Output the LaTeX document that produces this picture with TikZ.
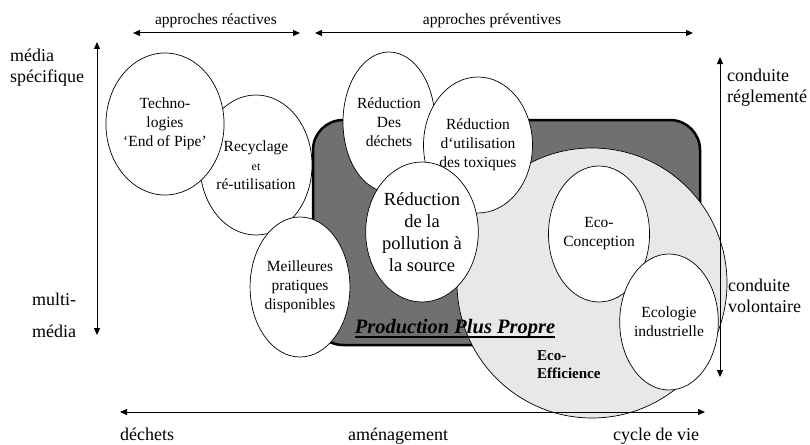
\documentclass[tikz,border=0pt]{standalone}
\usepackage{fontspec}
\setmainfont{Liberation Serif}
\usetikzlibrary{shapes.geometric,arrows.meta}
\definecolor{darkbox}{RGB}{112,112,112}
\definecolor{lightdisc}{RGB}{232,232,232}
\begin{document}
\begin{tikzpicture}[x=1pt,y=-1pt,
  ell/.style={ellipse,draw=black,line width=0.7pt,fill=white,inner sep=0pt,align=center,font=\fontsize{15.5}{19}\selectfont},
  ax/.style={line width=1pt,{Triangle[length=7pt,width=6pt]}-{Triangle[length=7pt,width=6pt]}},
  axlbl/.style={font=\fontsize{18}{21}\selectfont,inner sep=0pt,anchor=base west,align=left},
  toplbl/.style={font=\fontsize{15.5}{18}\selectfont,inner sep=0pt,anchor=base}]
\useasboundingbox (0,0) rectangle (810,444);
\fill[white] (0,0) rectangle (810,444);
% production plus propre box
\draw[line width=2.5pt,fill=darkbox,rounded corners=30pt] (313,120) rectangle (700,345);
% eco-efficience disc
\node[circle,draw=black,line width=0.7pt,fill=lightdisc,minimum size=270pt,inner sep=0pt] (disc) at (592,283) {};
% ellipses
\node[ell,minimum width=92pt,minimum height=140pt] (recy) at (256,165) {Recyclage\\{\fontsize{12}{19}\selectfont et}\\ré-utilisation};
\node[ell,minimum width=92pt,minimum height=142pt] (tech) at (165,124) {Techno-\\logies\\`End of Pipe'};
\node[ell,minimum width=95pt,minimum height=140pt] (meil) at (300,287) {Meilleures\\pratiques\\disponibles};
\node[ell,minimum width=92pt,minimum height=140pt] (dech) at (389,122) {Réduction\\Des\\déchets};
\node[ell,minimum width=88pt,minimum height=136pt] (toxi) at (478,145) {Réduction\\d\textquoteleft utilisation\\des toxiques};
\node[ell,minimum width=92pt,minimum height=140pt,font=\fontsize{18.5}{22}\selectfont] (poll) at (422,232) {Réduction\\de la\\pollution à\\la source};
\node[ell,minimum width=95pt,minimum height=136pt] (conc) at (599,234) {Eco-\\Conception};
\node[ell,minimum width=88pt,minimum height=136pt] (ecol) at (669,322) {Ecologie\\industrielle};
% inner labels
\node[font=\fontsize{20.5}{22}\selectfont\bfseries\itshape,inner sep=0pt,anchor=base] (ppp) at (455,333) {Production Plus Propre};
\draw[line width=1.6pt] ([yshift=-4pt]ppp.base west) -- ([yshift=-4pt]ppp.base east);
\node[font=\fontsize{15}{18}\selectfont\bfseries,align=left,anchor=base west,inner sep=0pt] (eff) at (537,378) {Eco-\\Efficience};
% axes
\coordinate (rA) at (133,33); \coordinate (rB) at (300,33);
\coordinate (pA) at (315,33); \coordinate (pB) at (693,33);
\coordinate (lA) at (97,42);  \coordinate (lB) at (97,335);
\coordinate (cA) at (720,57); \coordinate (cB) at (720,377);
\coordinate (bA) at (120,412); \coordinate (bB) at (705,412);
\draw[ax] (rA) -- (rB);
\draw[ax] (pA) -- (pB);
\draw[ax] (lA) -- (lB);
\draw[ax] (cA) -- (cB);
\draw[ax] (bA) -- (bB);
% axis labels
\node[toplbl] (treac) at (216,25) {approches réactives};
\node[toplbl] (tprev) at (492,25) {approches préventives};
\node[axlbl] (msp) at (10,82) {média\\spécifique};
\node[axlbl] (mul) at (32,305) {multi-};
\node[axlbl] (mmed) at (32,337) {média};
\node[axlbl] (creg) at (727,102) {conduite\\réglementé};
\node[axlbl] (cvol) at (728,312) {conduite\\volontaire};
\node[axlbl] (dch) at (120,440) {déchets};
\node[axlbl] (amg) at (348,440) {aménagement};
\node[axlbl] (cyc) at (613,440) {cycle de vie};
\end{tikzpicture}
\end{document}
